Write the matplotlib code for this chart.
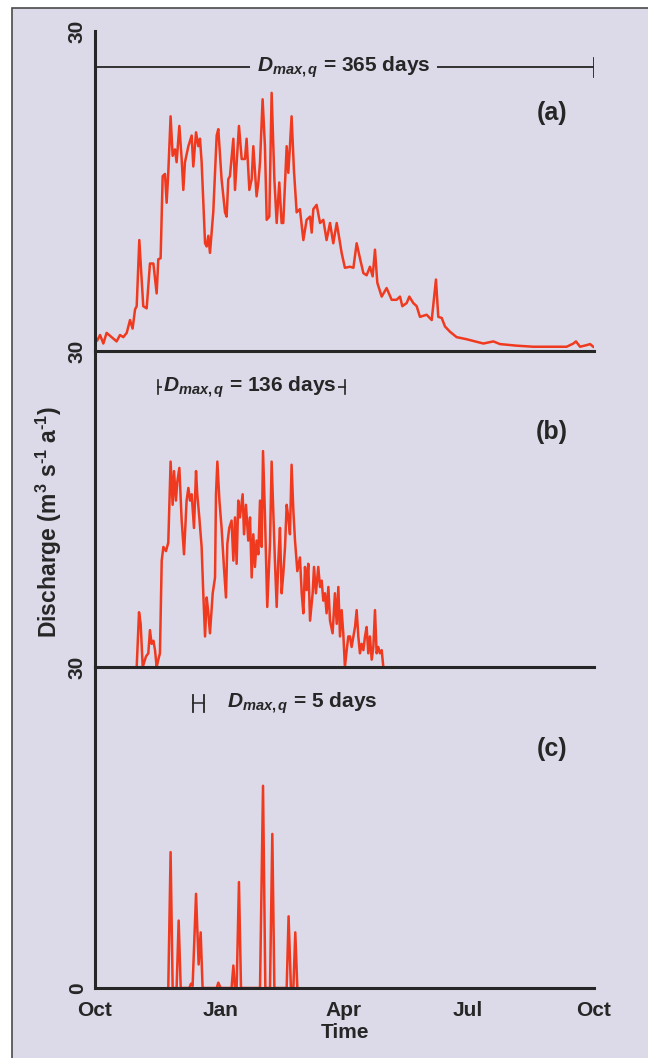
import matplotlib
matplotlib.use('Agg')
import matplotlib.pyplot as plt
from matplotlib.patches import Rectangle

plt.rcParams['font.family'] = ['Liberation Sans', 'DejaVu Sans']
plt.rcParams['font.weight'] = 'bold'
plt.rcParams['mathtext.fontset'] = 'custom'
plt.rcParams['mathtext.it'] = 'Liberation Sans:bold:italic'
plt.rcParams['mathtext.rm'] = 'Liberation Sans:bold'
plt.rcParams['mathtext.bf'] = 'Liberation Sans:bold'

# days since 1 Oct, discharge
a_day = [1.7, 3.7, 6.1, 8.5, 15.8, 18.3, 20.7, 23.2, 25.6, 27.5,
         29.3, 30.5, 32.4, 34.1, 35.3, 37.8, 40.2, 42.7, 45.1, 46.3,
         48.0, 49.5, 51.2, 52.4, 53.6, 55.3, 56.8, 58.5, 59.7, 61.7,
         63.4, 64.6, 65.8, 68.3, 70.7, 71.9, 73.9, 75.6, 76.8, 78.0,
         80.5, 81.7, 82.9, 84.1, 86.5, 89.0, 90.2, 92.6, 95.1, 96.3,
         97.5, 98.7, 101.2, 102.4, 105.3, 107.3, 109.7, 110.9, 112.9, 114.6,
         115.8, 118.2, 119.5, 120.7, 122.6, 124.3, 125.6, 127.5, 129.2, 131.2,
         132.9, 134.8, 136.5, 137.7, 140.2, 141.4, 142.6, 143.8, 145.5, 147.5,
         149.9, 152.4, 154.8, 157.3, 158.5, 159.7, 162.1, 164.6, 167.0, 169.4,
         171.9, 174.3, 176.8, 178.0, 180.4, 182.8, 186.5, 189.0, 191.4, 193.8,
         196.3, 198.7, 201.1, 203.1, 204.8, 206.5, 209.7, 213.3, 217.0, 220.6,
         223.1, 224.8, 228.0, 229.9, 232.8, 235.3, 237.7, 242.6, 246.3, 249.4,
         251.1, 253.6, 256.0, 259.7, 264.5, 271.9, 284.1, 291.4, 296.2, 308.4,
         320.6, 332.8, 345.0, 349.9, 351.8, 354.8, 359.6, 362.1, 364.5]
a_q = [1.0, 1.5, 0.7, 1.7, 0.9, 1.5, 1.3, 1.7, 2.9, 2.1,
       3.9, 4.2, 10.4, 6.7, 4.2, 4.0, 8.2, 8.2, 5.4, 8.6,
       8.7, 16.4, 16.6, 13.9, 16.7, 22.0, 18.3, 18.9, 17.7, 21.1,
       18.0, 15.1, 17.7, 19.2, 20.2, 17.3, 20.5, 19.2, 19.9, 17.7,
       10.1, 9.8, 10.8, 9.2, 13.0, 20.2, 20.8, 16.1, 13.0, 12.6,
       16.1, 16.4, 19.9, 15.1, 21.1, 18.0, 18.0, 19.9, 15.1, 16.1,
       19.2, 14.5, 15.8, 17.7, 23.6, 19.2, 12.3, 12.6, 24.2, 16.1,
       12.0, 15.8, 12.0, 12.0, 19.2, 16.7, 19.2, 22.0, 17.0, 13.0,
       13.3, 10.4, 12.3, 12.6, 11.1, 13.3, 13.7, 12.0, 12.3, 10.4,
       12.0, 10.1, 12.0, 11.1, 9.2, 7.8, 7.9, 7.8, 10.1, 8.7,
       7.3, 7.1, 7.9, 7.0, 9.5, 6.4, 5.1, 5.9, 4.8, 4.8,
       5.1, 4.2, 4.5, 5.1, 4.5, 4.2, 3.2, 3.4, 2.9, 6.7,
       3.2, 3.1, 2.3, 1.8, 1.3, 1.1, 0.7, 0.9, 0.65, 0.5,
       0.4, 0.4, 0.4, 0.7, 0.9, 0.4, 0.55, 0.65, 0.4]

b_day = [30.5, 32.2, 33.4, 34.9, 37.3, 39.0, 40.2, 41.4, 42.7, 43.9,
         45.1, 46.3, 47.5, 48.8, 50.0, 51.9, 53.6, 55.3, 56.8, 57.8,
         59.2, 60.2, 61.7, 63.4, 65.1, 67.0, 68.3, 69.5, 70.7, 72.4,
         73.9, 74.8, 76.3, 78.0, 79.2, 80.5, 81.7, 82.9, 84.1, 86.1,
         87.8, 88.5, 89.5, 91.0, 92.6, 94.3, 95.8, 96.8, 98.2, 99.9,
         101.2, 102.4, 103.6, 104.8, 106.0, 108.0, 109.0, 110.4, 112.1, 113.4,
         114.6, 115.8, 117.0, 118.2, 119.5, 120.7, 121.9, 122.9, 124.3, 126.0,
         128.0, 129.2, 130.4, 131.6, 132.9, 134.1, 135.3, 136.5, 137.7, 139.0,
         140.2, 141.4, 142.6, 143.8, 145.1, 146.3, 148.0, 149.9, 151.2, 152.4,
         153.6, 154.8, 156.0, 157.3, 159.2, 160.2, 161.6, 163.3, 164.6, 165.8,
         167.0, 168.2, 169.4, 170.7, 171.9, 173.8, 175.5, 176.8, 178.0, 179.2,
         180.4, 181.6, 182.8, 184.1, 185.3, 186.5, 187.7, 189.0, 190.2, 191.4,
         192.6, 193.8, 195.0, 196.3, 197.5, 198.7, 199.9, 201.1, 202.4, 203.6,
         204.8, 206.0, 207.2, 208.4, 209.7, 210.9]
b_q = [0, 5.2, 4.1, 0, 1.0, 1.3, 3.5, 2.2, 2.5, 1.6,
       0, 0.7, 1.3, 10.1, 11.4, 11.0, 11.8, 19.5, 15.4, 18.6,
       15.8, 17.6, 18.9, 13.9, 10.7, 15.8, 17.0, 15.8, 16.4, 13.2,
       18.6, 16.4, 14.2, 11.4, 7.0, 2.9, 6.6, 5.1, 3.2, 7.0,
       8.5, 16.4, 19.5, 15.8, 13.2, 9.5, 6.6, 11.7, 13.2, 13.9,
       10.1, 14.2, 9.8, 15.8, 14.2, 16.4, 12.6, 15.4, 12.0, 14.2,
       8.5, 12.6, 9.5, 12.0, 10.7, 15.8, 11.4, 20.5, 14.5, 5.7,
       11.7, 19.5, 14.8, 10.1, 5.7, 10.1, 13.2, 7.0, 8.8, 11.4,
       15.4, 14.2, 12.6, 19.2, 14.8, 12.0, 9.1, 10.4, 7.0, 5.1,
       9.5, 7.3, 9.8, 4.4, 7.0, 9.5, 7.0, 9.5, 7.6, 8.2,
       6.3, 7.0, 5.1, 7.6, 4.4, 3.2, 7.0, 4.1, 7.6, 2.9,
       5.4, 3.2, 0, 1.6, 2.9, 2.9, 1.9, 2.9, 3.8, 5.4,
       2.9, 1.3, 2.2, 1.6, 2.9, 3.8, 1.3, 2.9, 0.7, 1.9,
       5.4, 1.3, 1.9, 1.3, 1.6, 0]

c_day = [53.6, 55.3, 56.8, 59.7, 61.2, 62.7, 69.0, 70.2, 71.4, 73.9,
         75.8, 77.3, 78.7, 89.0, 90.2, 91.9, 99.9, 101.2, 102.4, 103.6,
         105.3, 106.8, 120.7, 122.9, 124.6, 128.0, 129.7, 131.2, 140.2, 141.6,
         143.3, 145.1, 146.5, 148.0]
c_q = [0, 12.7, 0, 0, 6.3, 0, 0, 0.4, 0.2, 8.8,
       2.2, 5.2, 0, 0, 0.5, 0, 0, 2.1, 0, 0,
       9.9, 0, 0, 18.9, 0, 0, 14.4, 0, 0, 6.7,
       0, 0, 5.2, 0]

month_pos = [0, 92, 182, 273, 365]
month_lab = ['Oct', 'Jan', 'Apr', 'Jul', 'Oct']
dmax_days = [365, 136, 5]
panel_lab = ['(a)', '(b)', '(c)']

bg = '#dcdae8'
red = '#ef3a20'
ink = '#262626'

fig = plt.figure(figsize=(6.48, 10.58), dpi=100, facecolor='white')
fig.patches.append(Rectangle((12 / 648, -0.1), 1.2, 1.1 - 8 / 1058,
                             transform=fig.transFigure, facecolor=bg,
                             edgecolor='#4a4a4a', lw=1.2, zorder=-10))

L, W = 95 / 648, 499 / 648
boxes = [(1 - 351 / 1058, 320 / 1058), (1 - 667 / 1058, 316 / 1058),
         (1 - 988 / 1058, 321 / 1058)]
axes = [fig.add_axes([L, b, W, h]) for b, h in boxes]

for ax, days, q in zip(axes, [a_day, b_day, c_day], [a_q, b_q, c_q]):
    ax.plot(days, q, color=red, lw=1.8, zorder=2)
    ax.set_facecolor('none')
    ax.set_xlim(0, 365)
    ax.set_ylim(0, 30)
    for s in ['top', 'right']:
        ax.spines[s].set_visible(False)
    for s in ['left', 'bottom']:
        ax.spines[s].set_linewidth(2.2)
        ax.spines[s].set_color(ink)
    ax.tick_params(length=0, colors=ink, labelsize=15, pad=6)
    ax.tick_params(axis='x', pad=9)
    ax.set_xticks(month_pos)
    ax.set_yticks([30])
    ax.set_yticklabels(['30'], rotation=90, va='center')

for ax in axes[:2]:
    ax.set_xticklabels([])
axes[2].set_yticks([0, 30])
axes[2].set_yticklabels(['0', '30'], rotation=90, va='center')
axes[2].set_xticklabels(month_lab, fontsize=15, color=ink)

# annotation bars
yb = 26.6
ax = axes[0]
ax.plot([0, 365], [yb, yb], color=ink, lw=1.3)
ax.plot([365, 365], [yb - 0.9, yb + 0.9], color=ink, lw=1.3)
ax.text(182, yb, r'$D_{max,q}$ = %d days' % dmax_days[0], ha='center', va='center',
        fontsize=15, color=ink,
        bbox=dict(facecolor=bg, edgecolor='none', pad=5))

ax = axes[1]
x0 = 46
x1 = x0 + dmax_days[1] + 1
ax.plot([x0, x1], [yb, yb], color=ink, lw=1.2)
ax.plot([x0, x0], [yb - 0.65, yb + 0.65], color=ink, lw=1.2)
ax.plot([x1, x1], [yb - 0.65, yb + 0.65], color=ink, lw=1.2)
ax.text((x0 + x1) / 2 - 1, yb, r'$D_{max,q}$ = %d days' % dmax_days[1], ha='center',
        va='center', fontsize=15, color=ink,
        bbox=dict(facecolor=bg, edgecolor='none', pad=1))

ax = axes[2]
h0, h1 = 71.5, 80
ax.plot([h0, h1], [yb, yb], color=ink, lw=1.1)
ax.plot([h0, h0], [yb - 0.8, yb + 0.8], color=ink, lw=1.3)
ax.plot([h1, h1], [yb - 0.8, yb + 0.8], color=ink, lw=1.3)
ax.text(96.5, yb, r'$D_{max,q}$ = %d days' % dmax_days[2], ha='left', va='center',
        fontsize=15, color=ink)

for ax, lab in zip(axes, panel_lab):
    ax.text(0.915, 0.745, lab, transform=ax.transAxes, ha='center', va='center',
            fontsize=18, color=ink)

fig.text(49 / 648, 1 - 522 / 1058,
         r'Discharge (m$^{3}$ s$^{\text{-}1}$ a$^{\text{-}1}$)',
         rotation=90, ha='center', va='center', fontsize=16.5, color=ink)
fig.text(345 / 648, 1 - 1032 / 1058, 'Time', ha='center', va='center',
         fontsize=15, color=ink)

fig.savefig('out.png', dpi=100, facecolor=fig.get_facecolor())
